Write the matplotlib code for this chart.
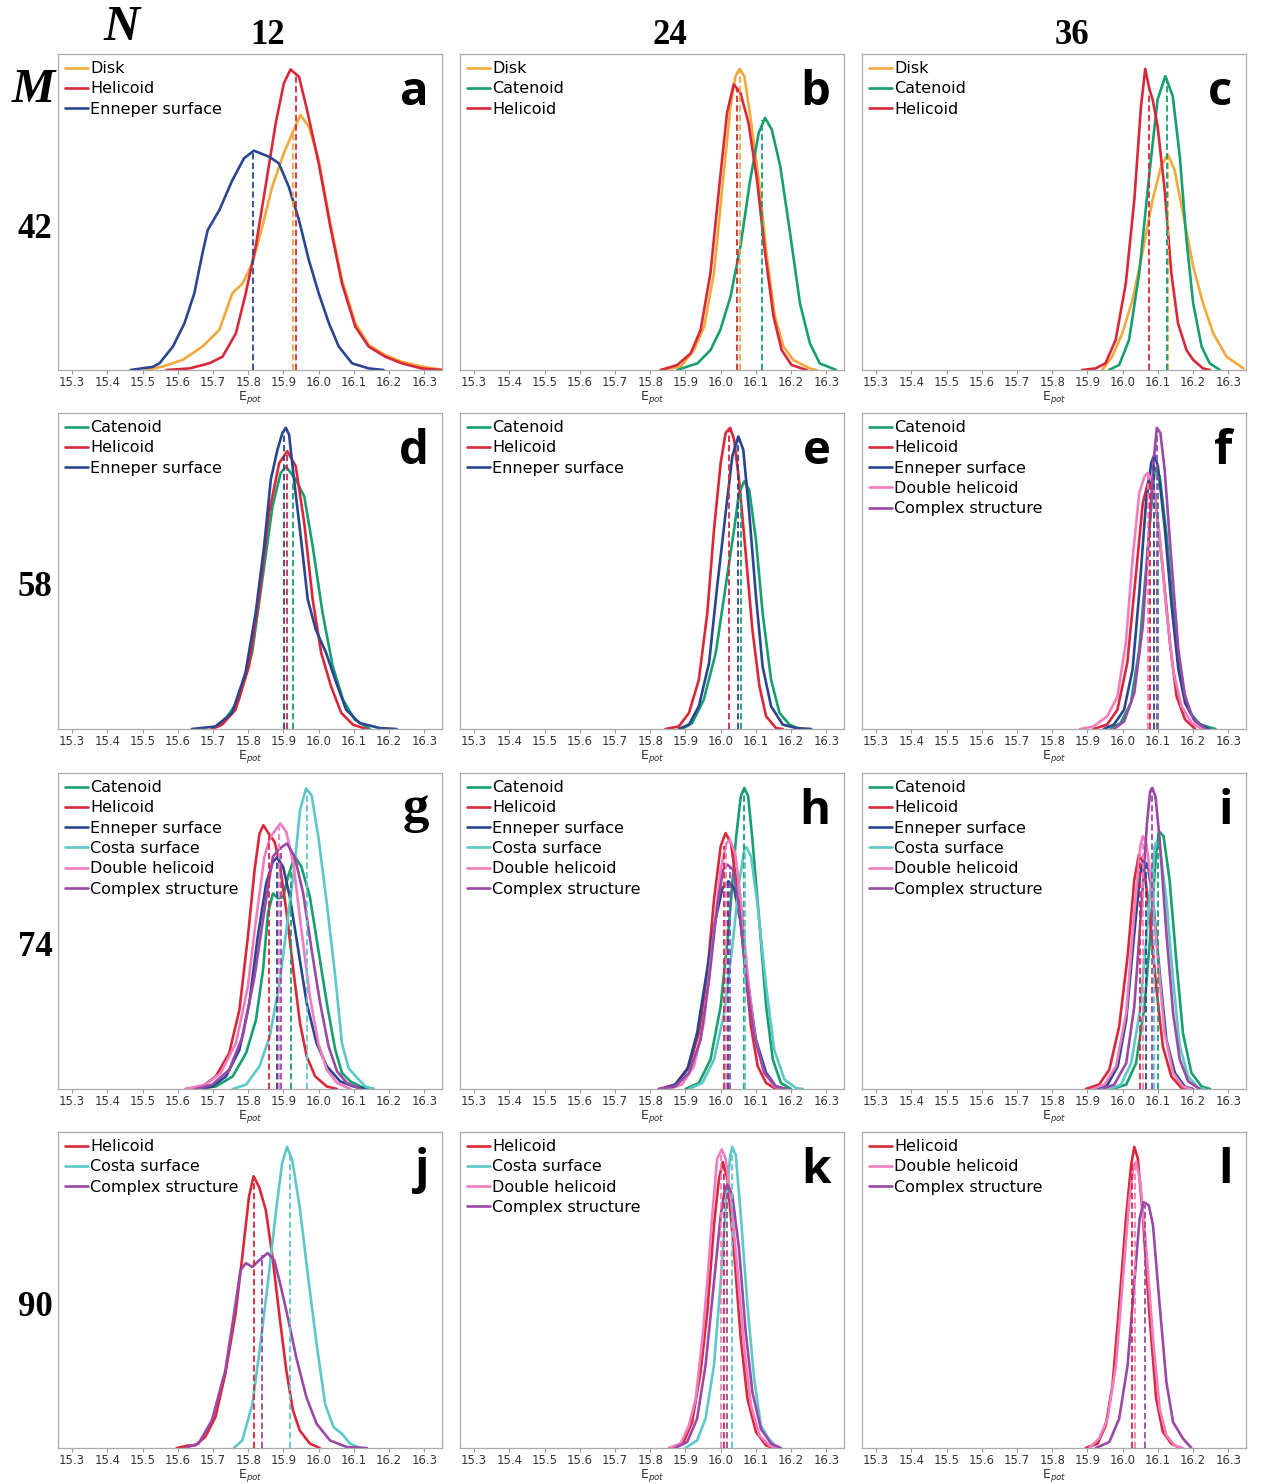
import matplotlib
matplotlib.use('Agg')
import matplotlib.pyplot as plt

# ---------------- colours ----------------
C_DISK = '#F2A93B'
C_HEL = '#D9283A'
C_ENN = '#2B4690'
C_CAT = '#17A06E'
C_COSTA = '#5EC8C8'
C_DBL = '#F07DC0'
C_CPX = '#9B49A6'

# ---------------- column / row headings ----------------
col_labels = ['12', '24', '36']
row_labels = ['42', '58', '74', '90']
panel_letters = ['a', 'b', 'c', 'd', 'e', 'f', 'g', 'h', 'i', 'j', 'k', 'l']
x_ticks = [15.3, 15.4, 15.5, 15.6, 15.7, 15.8, 15.9, 16.0, 16.1, 16.2, 16.3]

# ---------------- digitised KDE curves (x = Epot, y = relative density) ----------------
# panel a
a_disk = [(15.510, 0), (15.557, 0.011), (15.614, 0.032), (15.670, 0.074), (15.718, 0.127), (15.755, 0.243),
          (15.784, 0.274), (15.812, 0.338), (15.840, 0.454), (15.868, 0.580), (15.901, 0.686), (15.925, 0.749),
          (15.948, 0.807), (15.972, 0.770), (16.000, 0.665), (16.033, 0.464), (16.066, 0.285), (16.104, 0.148),
          (16.142, 0.079), (16.189, 0.047), (16.236, 0.026), (16.292, 0.011), (16.354, 0)]
a_hel = [(15.567, 0), (15.633, 0.005), (15.689, 0.021), (15.727, 0.042), (15.765, 0.116), (15.793, 0.243),
         (15.821, 0.390), (15.849, 0.580), (15.878, 0.781), (15.901, 0.907), (15.920, 0.951), (15.944, 0.928),
         (15.967, 0.823), (16.000, 0.654), (16.033, 0.454), (16.066, 0.274), (16.104, 0.137), (16.142, 0.074),
         (16.189, 0.042), (16.236, 0.021), (16.292, 0.005), (16.349, 0)]
a_enn = [(15.466, 0), (15.529, 0.010), (15.548, 0.021), (15.586, 0.074), (15.619, 0.148), (15.647, 0.243),
         (15.670, 0.369), (15.685, 0.443), (15.718, 0.506), (15.755, 0.601), (15.788, 0.670), (15.816, 0.694),
         (15.859, 0.675), (15.887, 0.654), (15.915, 0.580), (15.944, 0.475), (15.972, 0.348), (16.000, 0.243),
         (16.029, 0.148), (16.057, 0.074), (16.095, 0.021), (16.142, 0.005), (16.184, 0)]
a_mean_x = [15.927, 15.936, 15.814]
a_mean_h = [0.75, 0.93, 0.694]

# panel b
b_disk = [(15.830, 0), (15.887, 0.011), (15.924, 0.063), (15.953, 0.137), (15.981, 0.307), (16.004, 0.571),
          (16.028, 0.835), (16.042, 0.930), (16.054, 0.953), (16.067, 0.930), (16.084, 0.803), (16.108, 0.603),
          (16.131, 0.359), (16.154, 0.169), (16.178, 0.074), (16.206, 0.032), (16.225, 0.021), (16.253, 0.005),
          (16.272, 0)]
b_cat = [(15.877, 0), (15.906, 0.011), (15.934, 0.021), (15.971, 0.063), (15.999, 0.127), (16.028, 0.233),
         (16.056, 0.391), (16.084, 0.603), (16.108, 0.751), (16.126, 0.798), (16.145, 0.761), (16.169, 0.645),
         (16.197, 0.433), (16.225, 0.211), (16.253, 0.085), (16.281, 0.021), (16.328, 0)]
b_hel = [(15.830, 0), (15.877, 0.016), (15.915, 0.053), (15.943, 0.127), (15.971, 0.307), (15.995, 0.571),
         (16.018, 0.814), (16.037, 0.904), (16.056, 0.877), (16.079, 0.782), (16.103, 0.603), (16.126, 0.370),
         (16.150, 0.169), (16.173, 0.063), (16.201, 0.016), (16.244, 0)]
b_mean_x = [16.054, 16.118, 16.046]
b_mean_h = [0.95, 0.79, 0.89]

# panel c
c_disk = [(15.942, 0), (15.970, 0.042), (15.999, 0.116), (16.028, 0.222), (16.056, 0.370), (16.085, 0.539),
          (16.109, 0.645), (16.128, 0.682), (16.147, 0.634), (16.171, 0.497), (16.200, 0.328), (16.228, 0.211),
          (16.257, 0.116), (16.295, 0.042), (16.343, 0.005)]
c_cat = [(15.961, 0), (15.990, 0.016), (16.018, 0.095), (16.047, 0.307), (16.076, 0.624), (16.099, 0.856),
         (16.121, 0.930), (16.142, 0.867), (16.162, 0.677), (16.181, 0.412), (16.200, 0.211), (16.224, 0.074),
         (16.247, 0.021), (16.276, 0)]
c_hel = [(15.885, 0), (15.923, 0.005), (15.951, 0.021), (15.980, 0.095), (16.009, 0.275), (16.033, 0.539),
         (16.052, 0.835), (16.064, 0.953), (16.076, 0.888), (16.085, 0.856), (16.099, 0.772), (16.119, 0.571),
         (16.138, 0.307), (16.157, 0.148), (16.181, 0.063), (16.200, 0.032), (16.228, 0.005), (16.247, 0)]
c_mean_x = [16.128, 16.125, 16.076]
c_mean_h = [0.68, 0.925, 0.87]

# panel d
d_cat = [(15.697, 0), (15.735, 0.030), (15.773, 0.093), (15.811, 0.241), (15.840, 0.473), (15.869, 0.705),
         (15.892, 0.810), (15.907, 0.831), (15.935, 0.789), (15.959, 0.736), (15.983, 0.578), (16.011, 0.367),
         (16.040, 0.198), (16.069, 0.093), (16.102, 0.030), (16.145, 0)]
d_hel = [(15.697, 0), (15.726, 0.014), (15.764, 0.061), (15.802, 0.198), (15.830, 0.409), (15.859, 0.684),
         (15.888, 0.842), (15.911, 0.879), (15.935, 0.831), (15.959, 0.652), (15.983, 0.409), (16.007, 0.241),
         (16.035, 0.135), (16.064, 0.051), (16.097, 0.014), (16.135, 0)]
d_enn = [(15.640, 0), (15.707, 0.008), (15.754, 0.051), (15.792, 0.177), (15.821, 0.367), (15.845, 0.578),
         (15.864, 0.789), (15.883, 0.884), (15.897, 0.937), (15.907, 0.953), (15.916, 0.931), (15.930, 0.789),
         (15.950, 0.599), (15.969, 0.409), (15.992, 0.314), (16.021, 0.241), (16.050, 0.146), (16.078, 0.061),
         (16.116, 0.019), (16.173, 0.003), (16.221, 0)]
d_mean_x = [15.926, 15.909, 15.902]
d_mean_h = [0.78, 0.875, 0.94]

# panel e
e_cat = [(15.890, 0), (15.919, 0.019), (15.952, 0.093), (15.986, 0.241), (16.014, 0.451), (16.038, 0.631),
         (16.052, 0.747), (16.067, 0.784), (16.081, 0.757), (16.100, 0.599), (16.119, 0.367), (16.143, 0.156),
         (16.167, 0.051), (16.195, 0.014), (16.224, 0)]
e_hel = [(15.843, 0), (15.881, 0.008), (15.910, 0.051), (15.938, 0.156), (15.962, 0.367), (15.981, 0.631),
         (16.000, 0.842), (16.014, 0.937), (16.027, 0.953), (16.038, 0.916), (16.052, 0.789), (16.071, 0.557),
         (16.090, 0.314), (16.110, 0.135), (16.129, 0.040), (16.157, 0.003), (16.176, 0)]
e_enn = [(15.881, 0), (15.910, 0.014), (15.938, 0.072), (15.967, 0.209), (15.990, 0.451), (16.014, 0.684),
         (16.033, 0.863), (16.050, 0.926), (16.064, 0.884), (16.081, 0.684), (16.100, 0.420), (16.119, 0.198),
         (16.143, 0.072), (16.176, 0.014), (16.214, 0.003), (16.257, 0)]
e_mean_x = [16.057, 16.024, 16.048]
e_mean_h = [0.765, 0.95, 0.92]

# panel f
f_cat = [(15.965, 0), (15.994, 0.019), (16.023, 0.082), (16.047, 0.251), (16.071, 0.567), (16.086, 0.768),
         (16.092, 0.826), (16.105, 0.800), (16.124, 0.620), (16.143, 0.378), (16.167, 0.146), (16.191, 0.051),
         (16.220, 0.014), (16.263, 0)]
f_hel = [(15.917, 0), (15.956, 0.014), (15.985, 0.061), (16.013, 0.209), (16.037, 0.483), (16.057, 0.715),
         (16.074, 0.789), (16.092, 0.736), (16.114, 0.504), (16.134, 0.272), (16.153, 0.103), (16.177, 0.030),
         (16.206, 0)]
f_enn = [(15.946, 0), (15.975, 0.014), (16.004, 0.061), (16.028, 0.188), (16.047, 0.430), (16.066, 0.715),
         (16.081, 0.842), (16.090, 0.868), (16.100, 0.831), (16.119, 0.641), (16.138, 0.399), (16.158, 0.188),
         (16.177, 0.082), (16.206, 0.024), (16.244, 0)]
f_dbl = [(15.879, 0), (15.917, 0.008), (15.956, 0.040), (15.985, 0.103), (16.009, 0.272), (16.028, 0.536),
         (16.047, 0.747), (16.062, 0.800), (16.071, 0.810), (16.086, 0.778), (16.105, 0.610), (16.124, 0.378),
         (16.143, 0.188), (16.167, 0.072), (16.196, 0.019), (16.225, 0)]
f_cpx = [(15.975, 0), (16.004, 0.024), (16.033, 0.114), (16.057, 0.325), (16.076, 0.641), (16.088, 0.852),
         (16.097, 0.953), (16.107, 0.937), (16.119, 0.821), (16.138, 0.536), (16.158, 0.251), (16.177, 0.103),
         (16.201, 0.030), (16.235, 0)]
f_mean_x = [16.100, 16.077, 16.090, 16.072, 16.096]
f_mean_h = [0.80, 0.78, 0.86, 0.81, 0.95]

# panel g
g_cat = [(15.651, 0), (15.708, 0.008), (15.756, 0.040), (15.794, 0.114), (15.822, 0.219), (15.842, 0.377),
         (15.856, 0.556), (15.870, 0.619), (15.885, 0.603), (15.899, 0.608), (15.913, 0.672), (15.932, 0.737),
         (15.951, 0.703), (15.975, 0.608), (15.999, 0.440), (16.023, 0.272), (16.047, 0.124), (16.066, 0.051),
         (16.090, 0.024), (16.119, 0.008), (16.157, 0)]
g_hel = [(15.622, 0), (15.670, 0.008), (15.708, 0.040), (15.746, 0.114), (15.775, 0.251), (15.799, 0.482),
         (15.818, 0.693), (15.832, 0.808), (15.843, 0.835), (15.861, 0.803), (15.875, 0.782), (15.889, 0.714),
         (15.908, 0.566), (15.928, 0.377), (15.947, 0.208), (15.966, 0.103), (15.990, 0.040), (16.023, 0.008),
         (16.052, 0)]
g_enn = [(15.651, 0), (15.698, 0.008), (15.737, 0.040), (15.775, 0.124), (15.803, 0.272), (15.827, 0.482),
         (15.851, 0.651), (15.870, 0.719), (15.882, 0.733), (15.899, 0.703), (15.918, 0.608), (15.942, 0.440),
         (15.966, 0.272), (15.994, 0.145), (16.023, 0.072), (16.061, 0.024), (16.099, 0.008), (16.133, 0)]
g_costa = [(15.756, 0), (15.794, 0.014), (15.832, 0.072), (15.861, 0.166), (15.889, 0.335), (15.913, 0.545),
           (15.932, 0.714), (15.947, 0.882), (15.964, 0.951), (15.980, 0.929), (15.999, 0.798), (16.023, 0.587),
           (16.047, 0.356), (16.066, 0.145), (16.085, 0.066), (16.109, 0.035), (16.133, 0.008), (16.157, 0)]
g_dbl = [(15.622, 0), (15.679, 0.014), (15.722, 0.051), (15.765, 0.145), (15.799, 0.324), (15.822, 0.535),
         (15.846, 0.735), (15.861, 0.793), (15.880, 0.824), (15.891, 0.840), (15.908, 0.814), (15.928, 0.714),
         (15.951, 0.503), (15.975, 0.293), (15.999, 0.145), (16.023, 0.061), (16.052, 0.019), (16.090, 0)]
g_cpx = [(15.651, 0), (15.698, 0.014), (15.746, 0.061), (15.784, 0.166), (15.818, 0.356), (15.846, 0.566),
         (15.870, 0.735), (15.889, 0.761), (15.910, 0.777), (15.932, 0.735), (15.956, 0.619), (15.980, 0.440),
         (16.004, 0.272), (16.028, 0.135), (16.052, 0.056), (16.080, 0.019), (16.119, 0)]
g_mean_x = [15.920, 15.858, 15.882, 15.966, 15.887, 15.894]
g_mean_h = [0.69, 0.80, 0.73, 0.95, 0.83, 0.76]

# panel h
h_cat = [(15.900, 0), (15.938, 0.019), (15.971, 0.093), (16.000, 0.262), (16.024, 0.525), (16.043, 0.789),
         (16.057, 0.926), (16.067, 0.953), (16.078, 0.926), (16.090, 0.789), (16.110, 0.525), (16.129, 0.262),
         (16.148, 0.093), (16.171, 0.019), (16.200, 0)]
h_hel = [(15.824, 0), (15.871, 0.014), (15.910, 0.072), (15.938, 0.177), (15.962, 0.367), (15.981, 0.599),
         (16.000, 0.768), (16.014, 0.810), (16.029, 0.778), (16.048, 0.631), (16.067, 0.409), (16.086, 0.198),
         (16.105, 0.072), (16.129, 0.019), (16.157, 0)]
h_enn = [(15.833, 0), (15.871, 0.014), (15.905, 0.061), (15.933, 0.177), (15.957, 0.346), (15.981, 0.515),
         (16.005, 0.636), (16.022, 0.657), (16.038, 0.636), (16.057, 0.525), (16.076, 0.346), (16.100, 0.156),
         (16.129, 0.051), (16.157, 0.008), (16.186, 0)]
h_costa = [(15.910, 0), (15.948, 0.019), (15.981, 0.093), (16.010, 0.241), (16.033, 0.451), (16.052, 0.652),
           (16.067, 0.757), (16.073, 0.766), (16.086, 0.736), (16.105, 0.578), (16.129, 0.325), (16.152, 0.124),
           (16.181, 0.030), (16.214, 0.003), (16.233, 0)]
h_dbl = [(15.852, 0), (15.890, 0.014), (15.924, 0.072), (15.952, 0.209), (15.976, 0.451), (16.000, 0.694),
         (16.016, 0.778), (16.026, 0.789), (16.041, 0.747), (16.057, 0.599), (16.076, 0.367), (16.098, 0.156),
         (16.124, 0.051), (16.152, 0.008), (16.176, 0)]
h_cpx = [(15.824, 0), (15.871, 0.008), (15.910, 0.051), (15.943, 0.156), (15.967, 0.346), (15.990, 0.578),
         (16.007, 0.694), (16.019, 0.710), (16.035, 0.694), (16.052, 0.578), (16.071, 0.367), (16.095, 0.167),
         (16.124, 0.051), (16.157, 0.008), (16.186, 0)]
h_mean_x = [16.067, 16.008, 16.022, 16.070, 16.016, 16.027]
h_mean_h = [0.95, 0.77, 0.655, 0.76, 0.78, 0.70]

# panel i
i_cat = [(15.971, 0), (16.010, 0.014), (16.038, 0.082), (16.062, 0.262), (16.081, 0.525), (16.095, 0.747),
         (16.103, 0.815), (16.116, 0.800), (16.133, 0.662), (16.152, 0.409), (16.171, 0.177), (16.195, 0.051),
         (16.224, 0.008), (16.248, 0)]
i_hel = [(15.895, 0), (15.933, 0.014), (15.962, 0.061), (15.990, 0.198), (16.014, 0.420), (16.033, 0.662),
         (16.046, 0.742), (16.059, 0.715), (16.076, 0.557), (16.095, 0.325), (16.114, 0.135), (16.138, 0.040),
         (16.167, 0.003), (16.181, 0)]
i_enn = [(15.924, 0), (15.957, 0.014), (15.986, 0.072), (16.010, 0.219), (16.033, 0.494), (16.050, 0.684),
         (16.059, 0.720), (16.071, 0.710), (16.086, 0.599), (16.105, 0.367), (16.124, 0.156), (16.148, 0.051),
         (16.176, 0.008), (16.200, 0)]
i_costa = [(15.962, 0), (15.995, 0.014), (16.024, 0.082), (16.048, 0.241), (16.067, 0.473), (16.081, 0.662),
           (16.093, 0.778), (16.105, 0.768), (16.124, 0.599), (16.143, 0.346), (16.162, 0.135), (16.186, 0.040),
           (16.214, 0.003), (16.233, 0)]
i_dbl = [(15.914, 0), (15.948, 0.014), (15.981, 0.072), (16.010, 0.241), (16.033, 0.557), (16.050, 0.768),
         (16.057, 0.800), (16.067, 0.778), (16.081, 0.652), (16.100, 0.409), (16.119, 0.177), (16.143, 0.051),
         (16.171, 0.008), (16.195, 0)]
i_cpx = [(15.943, 0), (15.976, 0.014), (16.010, 0.082), (16.033, 0.262), (16.052, 0.557), (16.069, 0.842),
         (16.078, 0.942), (16.084, 0.953), (16.093, 0.926), (16.105, 0.789), (16.124, 0.494), (16.143, 0.241),
         (16.162, 0.093), (16.186, 0.024), (16.219, 0)]
i_mean_x = [16.100, 16.050, 16.065, 16.090, 16.057, 16.083]
i_mean_h = [0.81, 0.73, 0.71, 0.77, 0.80, 0.95]

# panel j
j_hel = [(15.597, 0), (15.630, 0.008), (15.649, 0.008), (15.678, 0.035), (15.707, 0.098), (15.735, 0.235),
         (15.764, 0.425), (15.783, 0.604), (15.802, 0.794), (15.815, 0.860), (15.831, 0.826), (15.850, 0.752),
         (15.869, 0.604), (15.889, 0.415), (15.908, 0.246), (15.927, 0.119), (15.946, 0.056), (15.975, 0.014),
         (16.003, 0)]
j_costa = [(15.759, 0), (15.783, 0.024), (15.812, 0.140), (15.836, 0.341), (15.860, 0.562), (15.879, 0.752),
           (15.896, 0.900), (15.910, 0.953), (15.925, 0.911), (15.946, 0.763), (15.970, 0.541), (15.994, 0.330),
           (16.018, 0.140), (16.042, 0.066), (16.066, 0.045), (16.089, 0.014), (16.118, 0)]
j_cpx = [(15.621, 0), (15.659, 0.014), (15.697, 0.088), (15.735, 0.246), (15.764, 0.457), (15.778, 0.562),
         (15.793, 0.585), (15.812, 0.573), (15.831, 0.594), (15.855, 0.617), (15.874, 0.594), (15.893, 0.509),
         (15.912, 0.415), (15.936, 0.288), (15.965, 0.161), (15.994, 0.077), (16.032, 0.024), (16.080, 0.003),
         (16.137, 0)]
j_mean_x = [15.815, 15.919, 15.839]
j_mean_h = [0.86, 0.93, 0.61]

# panel k
k_hel = [(15.862, 0), (15.895, 0.019), (15.919, 0.082), (15.943, 0.241), (15.962, 0.430), (15.981, 0.705),
         (15.995, 0.852), (16.006, 0.905), (16.019, 0.852), (16.038, 0.620), (16.057, 0.346), (16.076, 0.156),
         (16.100, 0.051), (16.129, 0.008), (16.148, 0)]
k_costa = [(15.900, 0), (15.933, 0.024), (15.957, 0.093), (15.981, 0.262), (16.000, 0.525), (16.016, 0.789),
           (16.027, 0.926), (16.033, 0.953), (16.043, 0.926), (16.057, 0.736), (16.076, 0.451), (16.095, 0.219),
           (16.114, 0.072), (16.133, 0.035), (16.157, 0.003), (16.171, 0)]
k_dbl = [(15.852, 0), (15.886, 0.014), (15.910, 0.072), (15.929, 0.156), (15.948, 0.346), (15.962, 0.525),
         (15.976, 0.736), (15.990, 0.916), (16.003, 0.945), (16.014, 0.916), (16.029, 0.789), (16.048, 0.557),
         (16.067, 0.314), (16.086, 0.135), (16.110, 0.040), (16.138, 0.008), (16.157, 0)]
k_cpx = [(15.871, 0), (15.905, 0.019), (15.933, 0.093), (15.957, 0.262), (15.981, 0.525), (16.000, 0.736),
         (16.012, 0.821), (16.019, 0.834), (16.033, 0.800), (16.052, 0.631), (16.071, 0.367), (16.090, 0.177),
         (16.114, 0.061), (16.143, 0.014), (16.171, 0)]
k_mean_x = [16.008, 16.033, 16.000, 16.019]
k_mean_h = [0.90, 0.95, 0.94, 0.83]

# panel l
l_hel = [(15.895, 0), (15.929, 0.014), (15.952, 0.072), (15.971, 0.198), (15.990, 0.451), (16.010, 0.736),
         (16.024, 0.895), (16.033, 0.953), (16.043, 0.916), (16.057, 0.736), (16.076, 0.420), (16.095, 0.156),
         (16.114, 0.051), (16.138, 0.014), (16.162, 0)]
l_dbl = [(15.905, 0), (15.933, 0.030), (15.957, 0.093), (15.981, 0.262), (16.000, 0.525), (16.019, 0.789),
         (16.031, 0.895), (16.038, 0.905), (16.050, 0.842), (16.067, 0.631), (16.086, 0.346), (16.105, 0.124),
         (16.124, 0.040), (16.148, 0.008), (16.171, 0)]
l_cpx = [(15.924, 0), (15.962, 0.019), (15.990, 0.093), (16.014, 0.262), (16.033, 0.525), (16.048, 0.726),
         (16.059, 0.778), (16.074, 0.768), (16.086, 0.705), (16.105, 0.451), (16.124, 0.209), (16.143, 0.082),
         (16.171, 0.030), (16.195, 0)]
l_mean_x = [16.027, 16.035, 16.064]
l_mean_h = [0.92, 0.90, 0.77]

# ---------------- panel definitions built from the arrays above ----------------
DISK, CAT, HEL, ENN = ('Disk', C_DISK), ('Catenoid', C_CAT), ('Helicoid', C_HEL), ('Enneper surface', C_ENN)
COSTA, DBL, CPX = ('Costa surface', C_COSTA), ('Double helicoid', C_DBL), ('Complex structure', C_CPX)

panels = [
    ([DISK, HEL, ENN], [a_disk, a_hel, a_enn], a_mean_x, a_mean_h),
    ([DISK, CAT, HEL], [b_disk, b_cat, b_hel], b_mean_x, b_mean_h),
    ([DISK, CAT, HEL], [c_disk, c_cat, c_hel], c_mean_x, c_mean_h),
    ([CAT, HEL, ENN], [d_cat, d_hel, d_enn], d_mean_x, d_mean_h),
    ([CAT, HEL, ENN], [e_cat, e_hel, e_enn], e_mean_x, e_mean_h),
    ([CAT, HEL, ENN, DBL, CPX], [f_cat, f_hel, f_enn, f_dbl, f_cpx], f_mean_x, f_mean_h),
    ([CAT, HEL, ENN, COSTA, DBL, CPX], [g_cat, g_hel, g_enn, g_costa, g_dbl, g_cpx], g_mean_x, g_mean_h),
    ([CAT, HEL, ENN, COSTA, DBL, CPX], [h_cat, h_hel, h_enn, h_costa, h_dbl, h_cpx], h_mean_x, h_mean_h),
    ([CAT, HEL, ENN, COSTA, DBL, CPX], [i_cat, i_hel, i_enn, i_costa, i_dbl, i_cpx], i_mean_x, i_mean_h),
    ([HEL, COSTA, CPX], [j_hel, j_costa, j_cpx], j_mean_x, j_mean_h),
    ([HEL, COSTA, DBL, CPX], [k_hel, k_costa, k_dbl, k_cpx], k_mean_x, k_mean_h),
    ([HEL, DBL, CPX], [l_hel, l_dbl, l_cpx], l_mean_x, l_mean_h),
]

# ---------------- figure ----------------
W, H = 1262, 1484
fig = plt.figure(figsize=(W / 100, H / 100), dpi=100)
col_left = [58, 460, 862]
row_top = [54, 413, 773, 1132]
AX_W, AX_H = 384, 316

for idx, (series, curves, mx, mh) in enumerate(panels):
    r, c = divmod(idx, 3)
    ax = fig.add_axes([col_left[c] / W, 1 - (row_top[r] + AX_H) / H, AX_W / W, AX_H / H])
    for (label, color), pts in zip(series, curves):
        xs = [p[0] for p in pts]
        ys = [p[1] for p in pts]
        ax.plot(xs, ys, color=color, lw=1.9, label=label, solid_joinstyle='round', solid_capstyle='round', zorder=2)
    for (label, color), x0, h0 in zip(series, mx, mh):
        ax.vlines(x0, 0, h0, colors=color, linestyles=(0, (3.5, 1.8)), lw=1.3, zorder=3)
    ax.set_xlim(15.26, 16.35)
    ax.set_ylim(0, 1.0)
    ax.set_yticks([])
    ax.set_xticks(x_ticks)
    ax.set_xticklabels([f'{t:.1f}' for t in x_ticks])
    ax.tick_params(axis='x', labelsize=8.4, length=3, width=0.8, color='#999999', pad=1.5, labelcolor='#333333')
    for sp in ax.spines.values():
        sp.set_color('#aaaaaa')
        sp.set_linewidth(0.9)
    ax.set_xlabel(r'E$_{pot}$', fontsize=9, labelpad=0, color='#333333')
    ax.legend(loc='upper left', bbox_to_anchor=(0, 1), frameon=False, fontsize=11.5,
              borderaxespad=0, borderpad=0.45, labelspacing=0.33, handlelength=1.45,
              handletextpad=0.12)
    letter = panel_letters[idx]
    if letter == 'g':
        ax.text(0.965, 0.845, letter, transform=ax.transAxes, ha='right', va='baseline',
                fontsize=38, fontweight='bold', family='Liberation Serif')
    else:
        ax.text(0.965, 0.84, letter, transform=ax.transAxes, ha='right', va='baseline',
                fontsize=34, fontweight='bold', family='Open Sans')

# headings
col_x = [268, 670, 1072]
for x, lab in zip(col_x, col_labels):
    fig.text(x / W, 1 - 35 / H, lab, ha='center', va='center', fontsize=25, fontweight='bold',
             family='Liberation Serif')
row_y = [229, 588, 947, 1307]
for y, lab in zip(row_y, row_labels):
    fig.text(35 / W, 1 - y / H, lab, ha='center', va='center', fontsize=25, fontweight='bold',
             family='Liberation Serif')
fig.text(122 / W, 1 - 28 / H, 'N', ha='center', va='center', fontsize=36, fontweight='bold',
         fontstyle='italic', family='Liberation Serif')
fig.text(33 / W, 1 - 90 / H, 'M', ha='center', va='center', fontsize=35, fontweight='bold',
         fontstyle='italic', family='Liberation Serif')

fig.savefig('out.png', dpi=100, facecolor='white')
